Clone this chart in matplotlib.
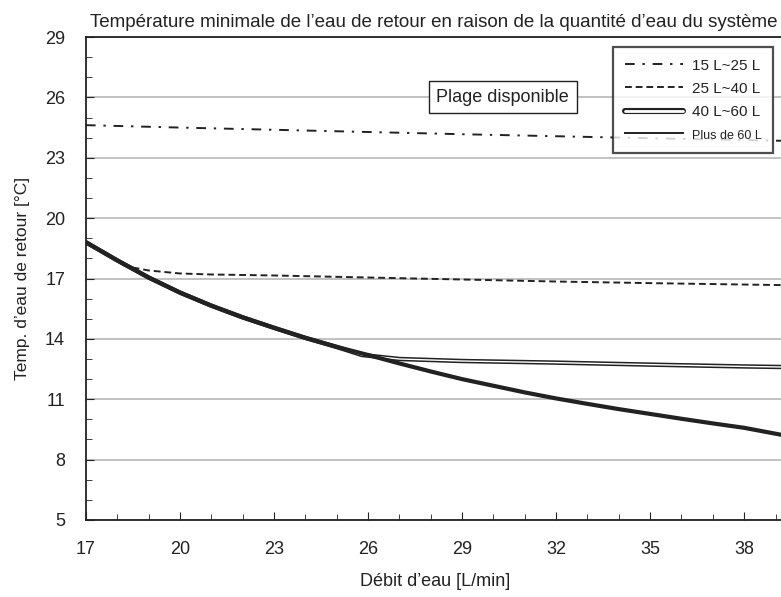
import matplotlib.pyplot as plt
from matplotlib.ticker import MultipleLocator
from matplotlib.legend_handler import HandlerTuple
from matplotlib.lines import Line2D

plt.rcParams['font.family'] = ['Liberation Sans', 'DejaVu Sans']

# data
x_1525 = [17, 20, 23, 26, 29, 32, 35, 38, 39.3]
y_1525 = [24.62, 24.5, 24.39, 24.28, 24.17, 24.07, 23.97, 23.88, 23.84]

x_2540 = [17, 17.5, 18.0, 18.3, 19, 20, 21, 23, 26, 29, 32, 35, 38, 39.3]
y_2540 = [18.8, 18.35, 17.88, 17.6, 17.4, 17.25, 17.2, 17.15, 17.05, 16.95, 16.85, 16.77, 16.7, 16.67]

x_4060 = [17, 18, 19, 20, 21, 22, 23, 24, 25, 25.8, 27, 29, 32, 35, 38, 39.3]
y_4060 = [18.8, 17.9, 17.05, 16.3, 15.65, 15.07, 14.55, 14.05, 13.6, 13.2, 13.0, 12.9, 12.82, 12.72, 12.63, 12.6]

x_60 = [17, 18, 19, 20, 21, 22, 23, 24, 25, 26, 27, 28, 29, 30, 31, 32, 33, 34, 35, 36, 37, 38, 39.3]
y_60 = [18.8, 17.9, 17.05, 16.3, 15.65, 15.07, 14.55, 14.05, 13.6, 13.2, 12.78, 12.38, 12.0, 11.67, 11.34, 11.04,
        10.77, 10.51, 10.27, 10.03, 9.8, 9.58, 9.2]

xticks = [17, 20, 23, 26, 29, 32, 35, 38]
yticks = [5, 8, 11, 14, 17, 20, 23, 26, 29]

fig = plt.figure(figsize=(7.81, 5.97), dpi=100)
ax = fig.add_axes([0.110, 0.129, 0.895, 0.809])

ax.set_xlim(17, 39.3)
ax.set_ylim(5, 29)
ax.set_xticks(xticks)
ax.set_yticks(yticks)
ax.xaxis.set_minor_locator(MultipleLocator(1))
ax.yaxis.set_minor_locator(MultipleLocator(1))
ax.tick_params(which='both', direction='in', labelsize=13, color='#222222', labelcolor='#222222')
ax.tick_params(which='major', length=6)
ax.tick_params(which='minor', length=4)
ax.tick_params(axis='y', pad=15)
ax.tick_params(axis='x', pad=15)
ax.grid(True, axis='y', color='#b8b8b8', lw=1.2)
ax.set_axisbelow(True)
ax.spines['right'].set_visible(False)
for s in ['left', 'bottom', 'top']:
    ax.spines[s].set_linewidth(1.3)
    ax.spines[s].set_color('#222222')

ax.plot(x_1525, y_1525, color='#222222', lw=1.4, dashes=[5, 4, 1.2, 4])
ax.plot(x_2540, y_2540, color='#222222', lw=1.4, dashes=[3.5, 2])
ax.plot(x_4060, y_4060, color='#222222', lw=3.2, solid_capstyle='round')
ax.plot(x_4060, y_4060, color='white', lw=1.0)
ax.plot(x_60, y_60, color='#222222', lw=3.0)

ax.text(30.3, 26, 'Plage disponible', fontsize=13, ha='center', va='center', color='#222222',
        bbox=dict(boxstyle='square,pad=0.42', fc='white', ec='#222222', lw=1))

h1 = Line2D([], [], color='#222222', lw=1.4, dashes=[5, 4, 1.2, 4])
h2 = Line2D([], [], color='#222222', lw=1.4, dashes=[3.5, 2])
h3a = Line2D([], [], color='#222222', lw=4.4, solid_capstyle='round')
h3b = Line2D([], [], color='white', lw=2.0, solid_capstyle='round')
h4 = Line2D([], [], color='#222222', lw=1.4)
leg = ax.legend([h1, h2, (h3a, h3b), h4],
                ['15 L~25 L', '25 L~40 L', '40 L~60 L', 'Plus de 60 L'],
                handler_map={tuple: HandlerTuple(ndivide=1, pad=0)},
                loc='upper right', bbox_to_anchor=(0.983, 0.979),
                fontsize=11, frameon=True, fancybox=False,
                handlelength=3.8, handletextpad=0.6, labelspacing=0.6,
                borderpad=0.75, borderaxespad=0)
leg.get_frame().set_edgecolor('#222222')
leg.get_frame().set_linewidth(1.6)
leg.get_texts()[3].set_fontsize(9)
for t in leg.get_texts():
    t.set_color('#222222')

ax.set_title("Température minimale de l’eau de retour en raison de la quantité d’eau du système",
             fontsize=13.5, color='#222222', pad=7, x=0.497)
ax.set_xlabel('Débit d’eau [L/min]', fontsize=13, color='#222222', labelpad=11)
ax.set_ylabel('Temp. d’eau de retour [°C]', fontsize=12.5, color='#222222', labelpad=11)

fig.savefig('out.png', dpi=100)
